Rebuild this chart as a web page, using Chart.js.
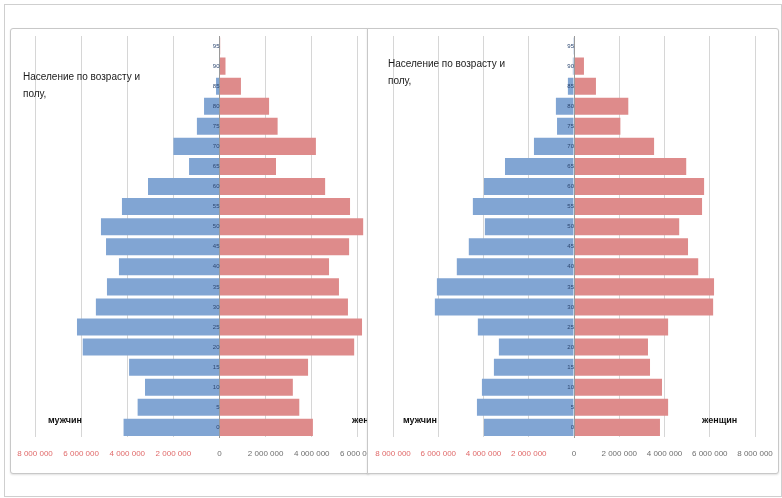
<!DOCTYPE html>
<html>
<head>
<meta charset="utf-8">
<script src="https://cdn.jsdelivr.net/npm/chart.js@4"></script>
<style>
  body { margin: 0; background: #fff; font-family: "Liberation Sans", Arial, sans-serif; }
  #frame { position: absolute; left: 4px; top: 4px; width: 776px; height: 491px; border: 1px solid #cfcfcf; }
  .box { position: absolute; top: 28px; height: 444px; border: 1px solid #c8c8c8; overflow: hidden; background: #fff; }
  #boxLeft { left: 10px; width: 357px; border-radius: 3px 0 0 3px; box-shadow: 0 1px 2px rgba(0,0,0,0.12); }
  #boxRight { left: 367px; width: 410px; border-radius: 0 3px 3px 0; box-shadow: 0 1px 2px rgba(0,0,0,0.12); }
  .wrap { position: absolute; left: 0; top: 0; height: 444px; }
  .title { position: absolute; font-size: 10px; line-height: 17px; color: #1a1a1a; }
  .sex { position: absolute; font-size: 9px; font-weight: bold; color: #111; }
</style>
</head>
<body>
<div id="frame"></div>
<div class="box" id="boxLeft">
  <div class="wrap" style="width:430px"><canvas id="chartLeft"></canvas></div>
  <div class="title" style="left:12px; top:39px">Население по возрасту и<br>полу,</div>
  <div class="sex" style="left:37px; top:386px">мужчин</div>
  <div class="sex" style="left:341px; top:386px">женщин</div>
</div>
<div class="box" id="boxRight">
  <div class="wrap" style="width:410px"><canvas id="chartRight"></canvas></div>
  <div class="title" style="left:20px; top:26px">Население по возрасту и<br>полу,</div>
  <div class="sex" style="left:35px; top:386px">мужчин</div>
  <div class="sex" style="left:334px; top:386px">женщин</div>
</div>
<script>
const ages = ['0', '5', '10', '15', '20', '25', '30', '35', '40', '45',
    '50', '55', '60', '65', '70', '75', '80', '85', '90', '95'];

const leftMen = [4160000, 3550000, 3230000, 3920000, 5930000, 6180000, 5360000, 4880000, 4360000, 4920000,
    5140000, 4230000, 3100000, 1320000, 2000000, 980000, 670000, 150000, 20000, 10000];
const leftWomen = [4050000, 3460000, 3180000, 3840000, 5840000, 6180000, 5570000, 5180000, 4750000, 5620000,
    6230000, 5660000, 4580000, 2450000, 4180000, 2520000, 2150000, 930000, 260000, 30000];

const rightMen = [3980000, 4290000, 4070000, 3540000, 3320000, 4250000, 6150000, 6060000, 5180000, 4650000,
    3940000, 4470000, 3980000, 3050000, 1770000, 750000, 800000, 270000, 50000, 10000];
const rightWomen = [3800000, 4160000, 3890000, 3360000, 3270000, 4160000, 6150000, 6190000, 5490000, 5040000,
    4650000, 5660000, 5750000, 4960000, 3540000, 2050000, 2400000, 970000, 440000, 30000];

const menColor = '#81a5d3';
const womenColor = '#de8b8b';

const formatTick = (value) => {
    return String(Math.abs(value)).replace(/\B(?=(\d{3})+(?!\d))/g, ' ');
}

const makePyramid = (canvasId, men, women, padLeft, padRight) => {
    return new Chart(document.getElementById(canvasId), {
        type: 'bar',
        data: {
            labels: ages,
            datasets: [{
                label: 'мужчин',
                data: men.map(v => -v),
                backgroundColor: menColor,
                barPercentage: 0.85,
                categoryPercentage: 1
            }, {
                label: 'женщин',
                data: women,
                backgroundColor: womenColor,
                barPercentage: 0.85,
                categoryPercentage: 1
            }]
        },
        options: {
            indexAxis: 'y',
            responsive: true,
            maintainAspectRatio: false,
            animation: false,
            layout: {
                padding: {left: padLeft, right: padRight, top: 7, bottom: 14}
            },
            plugins: {
                legend: {display: false},
                tooltip: {enabled: false}
            },
            scales: {
                x: {
                    stacked: true,
                    min: -8000000,
                    max: 8000000,
                    ticks: {
                        stepSize: 2000000,
                        padding: 0,
                        maxRotation: 0,
                        autoSkip: false,
                        font: {family: 'Liberation Sans', size: 8},
                        color: (ctx) => ctx.tick && ctx.tick.value < 0 ? '#e06a6a' : '#6f6f6f',
                        callback: (value) => formatTick(value)
                    },
                    grid: {color: '#d6d6d6', drawTicks: true, tickLength: 12, tickColor: 'rgba(0,0,0,0)'},
                    border: {display: false}
                },
                y: {
                    stacked: true,
                    reverse: true,
                    position: {x: 0},
                    ticks: {
                        z: 1,
                        padding: 3,
                        autoSkip: false,
                        font: {family: 'Liberation Sans', size: 6},
                        color: '#2c4670'
                    },
                    grid: {display: false, drawTicks: false},
                    border: {display: true, color: '#9a9a9a', z: 1}
                }
            }
        }
    });
}

makePyramid('chartLeft', leftMen, leftWomen, 24, 37);
makePyramid('chartRight', rightMen, rightWomen, 25, 23);
</script>
</body>
</html>
